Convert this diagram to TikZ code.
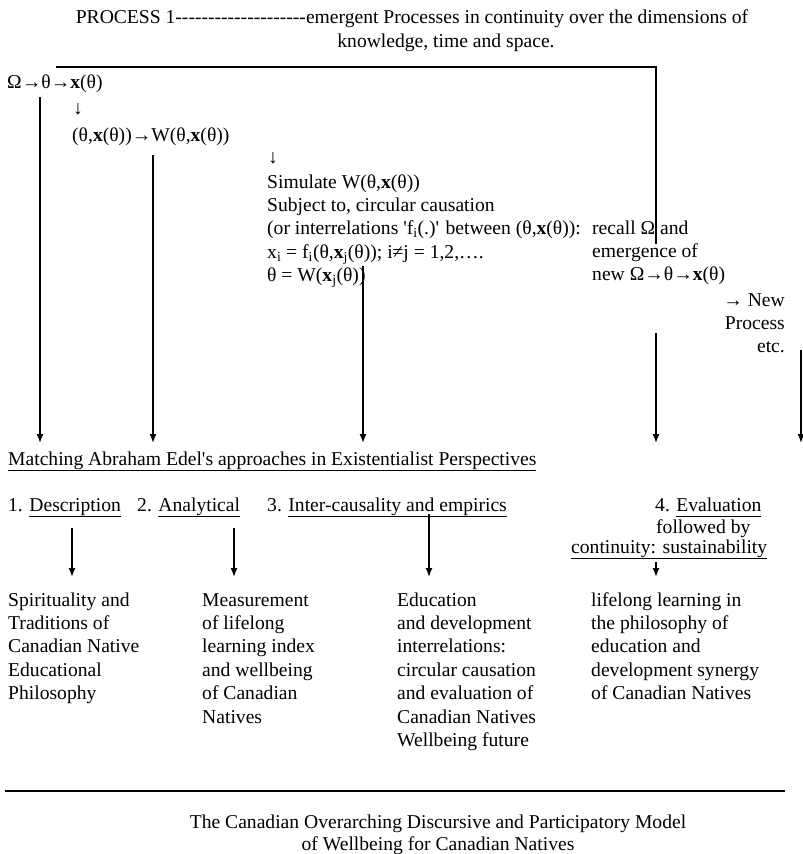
\documentclass[tikz,border=0pt]{standalone}
\usepackage{fontspec}
\setmainfont{Liberation Serif}
\newfontfamily\plainserif{Liberation Serif}
\usetikzlibrary{positioning,arrows.meta}

\newcommand{\bx}{\textbf{x}}
\newcommand{\sub}[1]{\textsubscript{#1}}
\newcommand{\q}{\textquotesingle}
\newcommand{\ulin}[1]{\underline{#1\vphantom{gy}}}

\begin{document}
\begin{tikzpicture}[x=1pt,y=-1pt,
  every node/.style={font=\fontsize{19.6}{23.4}\selectfont,inner sep=0pt},
  txt/.style={anchor=base west,align=left},
  down/.style={-{Latex[length=9pt,width=7pt]},line width=1.4pt},
  rule/.style={line width=1.4pt}]
\useasboundingbox (0,0) rectangle (803,854);

% heading
\node[anchor=base] (head1) at (412,23) {\plainserif PROCESS 1--------------------emergent Processes in continuity over the dimensions of};
\node[anchor=base] (head2) at (446,47) {knowledge, time and space.};

% process 1 (multi-line nodes sit on their last baseline)
\node[txt] (omega) at (7,88) {Ω→θ→\bx(θ)};
\node[anchor=base] (dn1) at (78,114) {↓};
\node[txt] (welfare) at (72,141) {(θ,\bx(θ))→W(θ,\bx(θ))};
\node[anchor=base] (dn2) at (273,163) {↓};
\node[txt] (simul) at (267,281.6) {Simulate W(θ,\bx(θ))\\
  Subject to, circular causation\\
  (or interrelations \q f\sub{i}(.)\q{} between (θ,\bx(θ)):\\
  x\sub{i} = f\sub{i}(θ,\bx\sub{j}(θ)); i≠j = 1,2,….\\
  θ = W(\bx\sub{j}(θ))};
\node[txt] (recall) at (592,280.8) {recall Ω and\\emergence of\\new Ω→θ→\bx(θ)};
\node[anchor=base east,align=right] (newproc) at (785,352.8) {→ New\\Process\\etc.};

% loop back
\coordinate (loopL) at (56,67);
\coordinate (loopR) at (656,67);
\coordinate (loopE) at (656,244);
\draw[rule] (loopL) -- (loopR) -- (loopE);

% arrows down to Edel
\coordinate (s1) at (40,97);   \coordinate (e1) at (40,443);
\coordinate (s2) at (153,155); \coordinate (e2) at (153,443);
\coordinate (s3) at (363,266); \coordinate (e3) at (363,443);
\coordinate (s4) at (656,333); \coordinate (e4) at (656,443);
\coordinate (s5) at (801,350); \coordinate (e5) at (801,443);
\draw[down] (s1) -- (e1);
\draw[down] (s2) -- (e2);
\draw[down] (s3) -- (e3);
\draw[down] (s4) -- (e4);
\draw[down] (s5) -- (e5);

% Edel's approaches
\node[txt] (edel) at (8,465) {\ulin{Matching Abraham Edel\q s approaches in Existentialist Perspectives}};
\node[txt] (descr) at (8,511) {1. \ulin{Description}};
\node[txt] (analyt) at (137,511) {2. \ulin{Analytical}};
\node[txt] (interc) at (267,511) {3. \ulin{Inter-causality and empirics}};
\node[txt] (evalu) at (655,511) {4. \ulin{Evaluation}};
\node[txt] (follow) at (656,533) {followed by};
\node[txt] (contin) at (571,553) {\ulin{continuity: sustainability}};

\coordinate (r1) at (72,528);  \coordinate (f1) at (72,577);
\coordinate (r2) at (234,528); \coordinate (f2) at (234,577);
\coordinate (r3) at (429,514); \coordinate (f3) at (429,577);
\coordinate (r4) at (656,562); \coordinate (f4) at (656,577);
\draw[down] (r1) -- (f1);
\draw[down] (r2) -- (f2);
\draw[down] (r3) -- (f3);
\draw[down] (r4) -- (f4);

% outcomes
\node[txt] (spirit) at (8,699.6) {Spirituality and\\Traditions of\\Canadian Native\\Educational\\Philosophy};
\node[txt] (measure) at (202,723) {Measurement\\of lifelong\\learning index\\and wellbeing\\of Canadian\\Natives};
\node[txt] (educ) at (397,746.4) {Education\\and development\\interrelations:\\circular causation\\and evaluation of\\Canadian Natives\\Wellbeing future};
\node[txt] (lifelong) at (591,699.6) {lifelong learning in\\the philosophy of\\education and\\development synergy\\of Canadian Natives};

% caption
\coordinate (ruleL) at (5,791);
\coordinate (ruleR) at (785,791);
\draw[rule] (ruleL) -- (ruleR);
\node[anchor=base] (cap1) at (438,828) {The Canadian Overarching Discursive and Participatory Model};
\node[anchor=base] (cap2) at (438,850) {of Wellbeing for Canadian Natives};
\end{tikzpicture}
\end{document}
